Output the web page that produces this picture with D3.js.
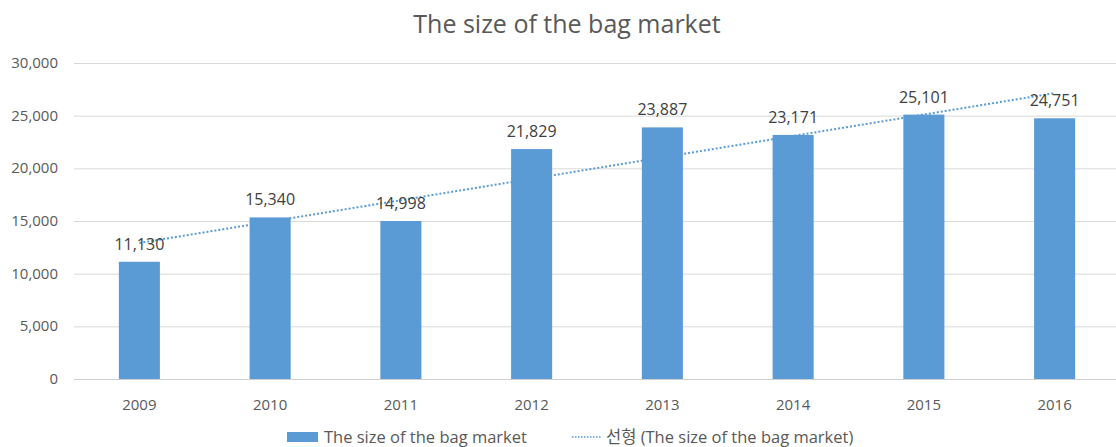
<!DOCTYPE html>
<html>
<head>
<meta charset="utf-8">
<script src="https://cdn.jsdelivr.net/npm/d3@7"></script>
<style>
  body { margin: 0; background: #fff; }
  text { font-family: "Open Sans", "Noto Sans CJK KR", sans-serif; }
</style>
</head>
<body>
<div id="chart"></div>
<script>
var years = ['2009', '2010', '2011', '2012', '2013', '2014', '2015', '2016'];
var values = [11130, 15340, 14998, 21829, 23887, 23171, 25101, 24751];
var yTicks = [0, 5000, 10000, 15000, 20000, 25000, 30000];
var seriesName = 'The size of the bag market';
var trendName = '선형 (The size of the bag market)';

var W = 1116, H = 447;
var plotL = 74, plotR = 1120, plotT = 63, plotB = 379;

var svg = d3.select('#chart').append('svg').attr('width', W).attr('height', H);

var x = d3.scaleBand().domain(years).range([plotL, plotR]).paddingInner(0.686).paddingOuter(0.343);
var y = d3.scaleLinear().domain([0, 30000]).range([plotB, plotT]);

// title
svg.append('text')
  .attr('x', 567).attr('y', 33)
  .attr('text-anchor', 'middle')
  .attr('font-size', 25)
  .attr('fill', '#595959')
  .text('The size of the bag market');

// gridlines
svg.append('g').selectAll('line').data(yTicks).enter().append('line')
  .attr('x1', plotL).attr('x2', plotR)
  .attr('y1', function(d) { return y(d) + 0.5; })
  .attr('y2', function(d) { return y(d) + 0.5; })
  .attr('stroke', function(d) { return d === 0 ? '#d0d0d0' : '#d9d9d9'; })
  .attr('stroke-width', 1);

// y tick labels
svg.append('g').selectAll('text').data(yTicks).enter().append('text')
  .attr('x', 58).attr('y', function(d) { return y(d) + 5; })
  .attr('text-anchor', 'end')
  .attr('font-size', 15)
  .attr('fill', '#595959')
  .text(function(d) { return d3.format(',')(d); });

// bars
svg.append('g').selectAll('rect').data(values).enter().append('rect')
  .attr('x', function(d, i) { return x(years[i]); })
  .attr('y', function(d) { return y(d); })
  .attr('width', x.bandwidth())
  .attr('height', function(d) { return plotB - y(d); })
  .attr('fill', '#5b9bd5');

// x labels
svg.append('g').selectAll('text').data(years).enter().append('text')
  .attr('x', function(d) { return x(d) + x.bandwidth() / 2; })
  .attr('y', 410)
  .attr('text-anchor', 'middle')
  .attr('font-size', 15)
  .attr('fill', '#595959')
  .text(function(d) { return d; });

// linear trend (least squares over category index)
var n = values.length;
var mx = (n + 1) / 2, my = d3.mean(values);
var sxy = 0, sxx = 0;
values.forEach(function(v, i) { sxy += (i + 1 - mx) * (v - my); sxx += (i + 1 - mx) * (i + 1 - mx); });
var slope = sxy / sxx, icpt = my - slope * mx;
var cx = function(i) { return x(years[i]) + x.bandwidth() / 2; };
svg.append('line')
  .attr('x1', cx(0)).attr('y1', y(icpt + slope * 1))
  .attr('x2', cx(n - 1)).attr('y2', y(icpt + slope * n))
  .attr('stroke', '#5b9bd5')
  .attr('stroke-width', 2)
  .attr('stroke-dasharray', '2,2');

// data labels
svg.append('g').selectAll('text').data(values).enter().append('text')
  .attr('x', function(d, i) { return cx(i); })
  .attr('y', function(d) { return y(d) - 12; })
  .attr('text-anchor', 'middle')
  .attr('font-size', 16)
  .attr('fill', '#404040')
  .text(function(d) { return d3.format(',')(d); });

// legend
var lg = svg.append('g');
lg.append('rect').attr('x', 287).attr('y', 432).attr('width', 31).attr('height', 10).attr('fill', '#5b9bd5');
lg.append('text').attr('x', 324).attr('y', 443).attr('font-size', 16.5).attr('fill', '#595959').text(seriesName);
lg.append('line').attr('x1', 572).attr('x2', 601).attr('y1', 437).attr('y2', 437)
  .attr('stroke', '#5b9bd5').attr('stroke-width', 1.5).attr('stroke-dasharray', '1.5,1.5');
lg.append('text').attr('x', 606).attr('y', 443).attr('font-size', 16.5).attr('fill', '#595959').text(trendName);
</script>
</body>
</html>
